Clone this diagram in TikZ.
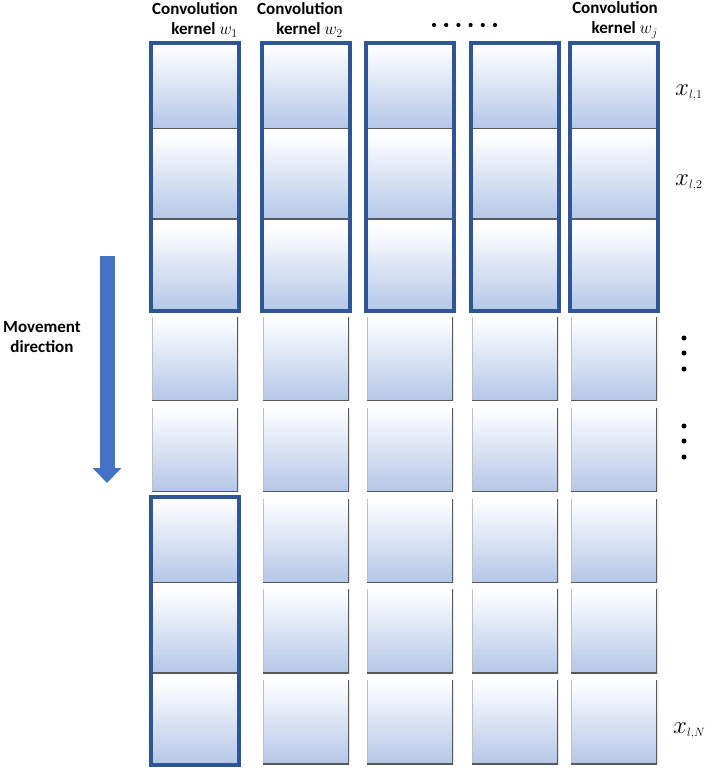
\documentclass[tikz,border=0pt]{standalone}
\usepackage{fontspec}
\setmainfont{Carlito}
\usetikzlibrary{positioning,fit,arrows.meta}
\definecolor{cellblue}{RGB}{180,199,231}
\definecolor{kernelblue}{RGB}{47,85,151}
\definecolor{arrowblue}{RGB}{68,114,196}

\begin{document}
\begin{tikzpicture}[x=1pt,y=-1pt,
    cell/.style={minimum width=86pt,minimum height=84pt,inner sep=0pt,
        top color=white,bottom color=cellblue,
        path picture={
            \draw[gray!50,line width=1pt] (path picture bounding box.south west) -- (path picture bounding box.north west);
            \draw[black!65,line width=2pt] (path picture bounding box.north east) -- (path picture bounding box.south east) -- (path picture bounding box.south west);}},
    kernel/.style={draw=kernelblue,line width=4pt,inner sep=1pt},
    head/.style={font=\fontsize{17}{20}\selectfont\bfseries,align=right,inner sep=0pt,anchor=east},
    rowlabel/.style={font=\fontsize{26}{30}\selectfont,inner sep=0pt,anchor=base west}]
\useasboundingbox (0,0) rectangle (708,771);
% grid of cells
\foreach \cx [count=\i] in {195,306,410,515,614}
  \foreach \r in {1,...,8}
    \node[cell] (c-\i-\r) at (\cx,{86.5+(\r-1)*90.8}) {};
% kernels
\foreach \i in {1,...,5}
  \node[kernel,fit=(c-\i-1)(c-\i-3)] (k-\i) {};
\node[kernel,fit=(c-1-6)(c-1-8)] (k-1b) {};
% headers
\node[head] (h-1) at (238,20) {Convolution\\kernel $w_1$};
\node[head] (h-2) at (343,20) {Convolution\\kernel $w_2$};
\node[head] (h-5) at (658,20) {Convolution\\kernel $w_j$};
\foreach \k in {0,...,5}
  \fill (434+12.2*\k,25) circle (2.1);
% row labels
\node[rowlabel] (x-1) at (675,95) {$x_{\scriptscriptstyle l,1}$};
\node[rowlabel] (x-2) at (675,185) {$x_{\scriptscriptstyle l,2}$};
\node[rowlabel] (x-n) at (673,733) {$x_{\scriptscriptstyle l,N}$};
\foreach \y in {338,353,369,426,441,457}
  \fill (684,\y) circle (2.5);
% movement
\node[head,align=center,anchor=center] (move) at (42,337) {Movement\\direction};
\coordinate (arrtop) at (107,256);
\coordinate (arrtip) at (107,483);
\draw[arrowblue,line width=15pt,-{Triangle[width=28pt,length=15pt]}] (arrtop) -- (arrtip);
\end{tikzpicture}
\end{document}
